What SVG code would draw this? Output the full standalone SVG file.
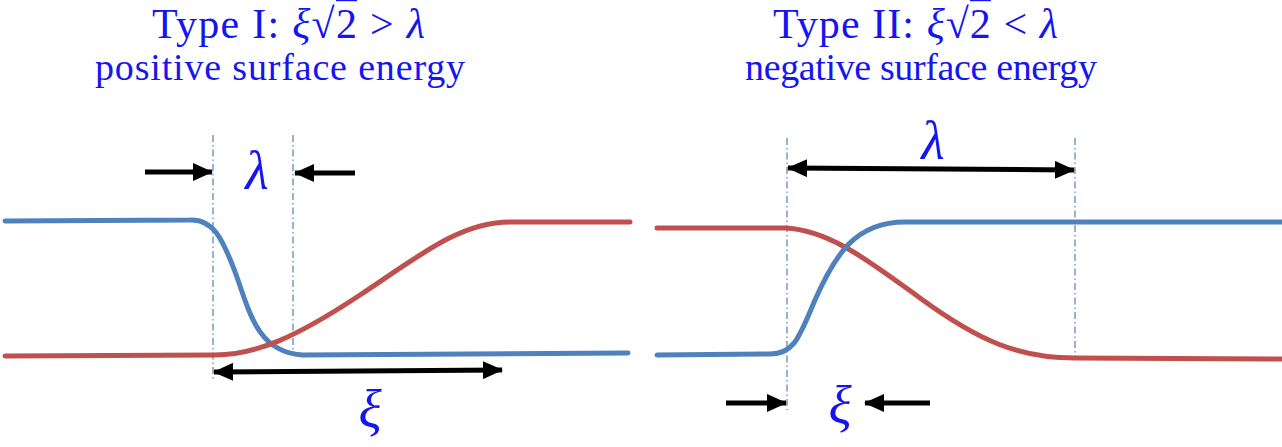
<svg xmlns="http://www.w3.org/2000/svg" width="1282" height="447" viewBox="0 0 1282 447">
<style>
.t{font-family:"Liberation Serif","DejaVu Serif",serif;fill:#1515F0;font-size:38px}
.h{font-size:42px}
.g{font-family:"Liberation Serif","DejaVu Serif",serif;fill:#1515F0;font-style:italic}
.ov{text-decoration:overline}
.blue{fill:none;stroke:#4F81BD;stroke-width:5;stroke-linecap:round}
.red{fill:none;stroke:#C0504D;stroke-width:5;stroke-linecap:round}
.guide{stroke:#4F81BD;stroke-width:1.2;stroke-dasharray:7,3,1.5,3}
.arr{stroke:#000;stroke-width:5;fill:none}
</style>
<defs>
<marker id="ah" viewBox="0 0 20 18" refX="19" refY="9" markerWidth="20" markerHeight="18" markerUnits="userSpaceOnUse" orient="auto-start-reverse">
<path d="M0,0 L20,9 L0,18 Z" fill="#000"/>
</marker>
</defs>
<rect width="1282" height="447" fill="#fff"/>
<g id="title-left">
<text class="t h" x="152" y="38" textLength="273" lengthAdjust="spacing">Type I: <tspan font-style="italic">ξ</tspan>√<tspan class="ov">2</tspan> &gt; <tspan font-style="italic">λ</tspan></text>
<text class="t" x="95" y="80" textLength="370" lengthAdjust="spacing">positive surface energy</text>
</g>
<g id="title-right">
<text class="t h" x="773" y="38" textLength="285" lengthAdjust="spacing">Type II: <tspan font-style="italic">ξ</tspan>√<tspan class="ov">2</tspan> &lt; <tspan font-style="italic">λ</tspan></text>
<text class="t" x="745" y="80" textLength="352" lengthAdjust="spacing">negative surface energy</text>
</g>
<g id="guides">
<line class="guide" x1="213" y1="135" x2="213" y2="380"/>
<line class="guide" x1="293" y1="135" x2="293" y2="350"/>
<line class="guide" x1="787" y1="138" x2="787" y2="410"/>
<line class="guide" x1="1075" y1="138" x2="1075" y2="358"/>
</g>
<g id="curves-left">
<path class="blue" d="M5,221 L190,220 C212,219 222,235 238,280 C252,322 262,352 302,355 L628,353"/>
<path class="red" d="M5,356 L215,355 C255,355 295,338 360,295 C419,256 460,222 510,222 L630,222"/>
</g>
<g id="curves-right">
<path class="red" d="M657,228 L785,228 C830,230 870,262 920,298 C980,342 1020,358 1075,358 L1282,359"/>
<path class="blue" d="M657,355 L770,354 C795,354 800,335 815,300 C835,255 855,222 905,222 L1282,222"/>
</g>
<g id="connectors">
<line class="arr" x1="145" y1="172" x2="212" y2="172" marker-end="url(#ah)"/>
<line class="arr" x1="355" y1="173" x2="295" y2="173" marker-end="url(#ah)"/>
<line class="arr" x1="214" y1="372" x2="502" y2="370" marker-start="url(#ah)" marker-end="url(#ah)"/>
<line class="arr" x1="788" y1="168" x2="1074" y2="170" marker-start="url(#ah)" marker-end="url(#ah)"/>
<line class="arr" x1="726" y1="403" x2="786" y2="403" marker-end="url(#ah)"/>
<line class="arr" x1="930" y1="403" x2="865" y2="403" marker-end="url(#ah)"/>
</g>
<g id="labels">
<text class="g" x="257" y="189" font-size="54" text-anchor="middle">λ</text>
<text class="g" x="933" y="159" font-size="54" text-anchor="middle">λ</text>
<text class="g" x="370" y="428" font-size="54" text-anchor="middle">ξ</text>
<text class="g" x="840" y="424" font-size="54" text-anchor="middle">ξ</text>
</g>
</svg>
